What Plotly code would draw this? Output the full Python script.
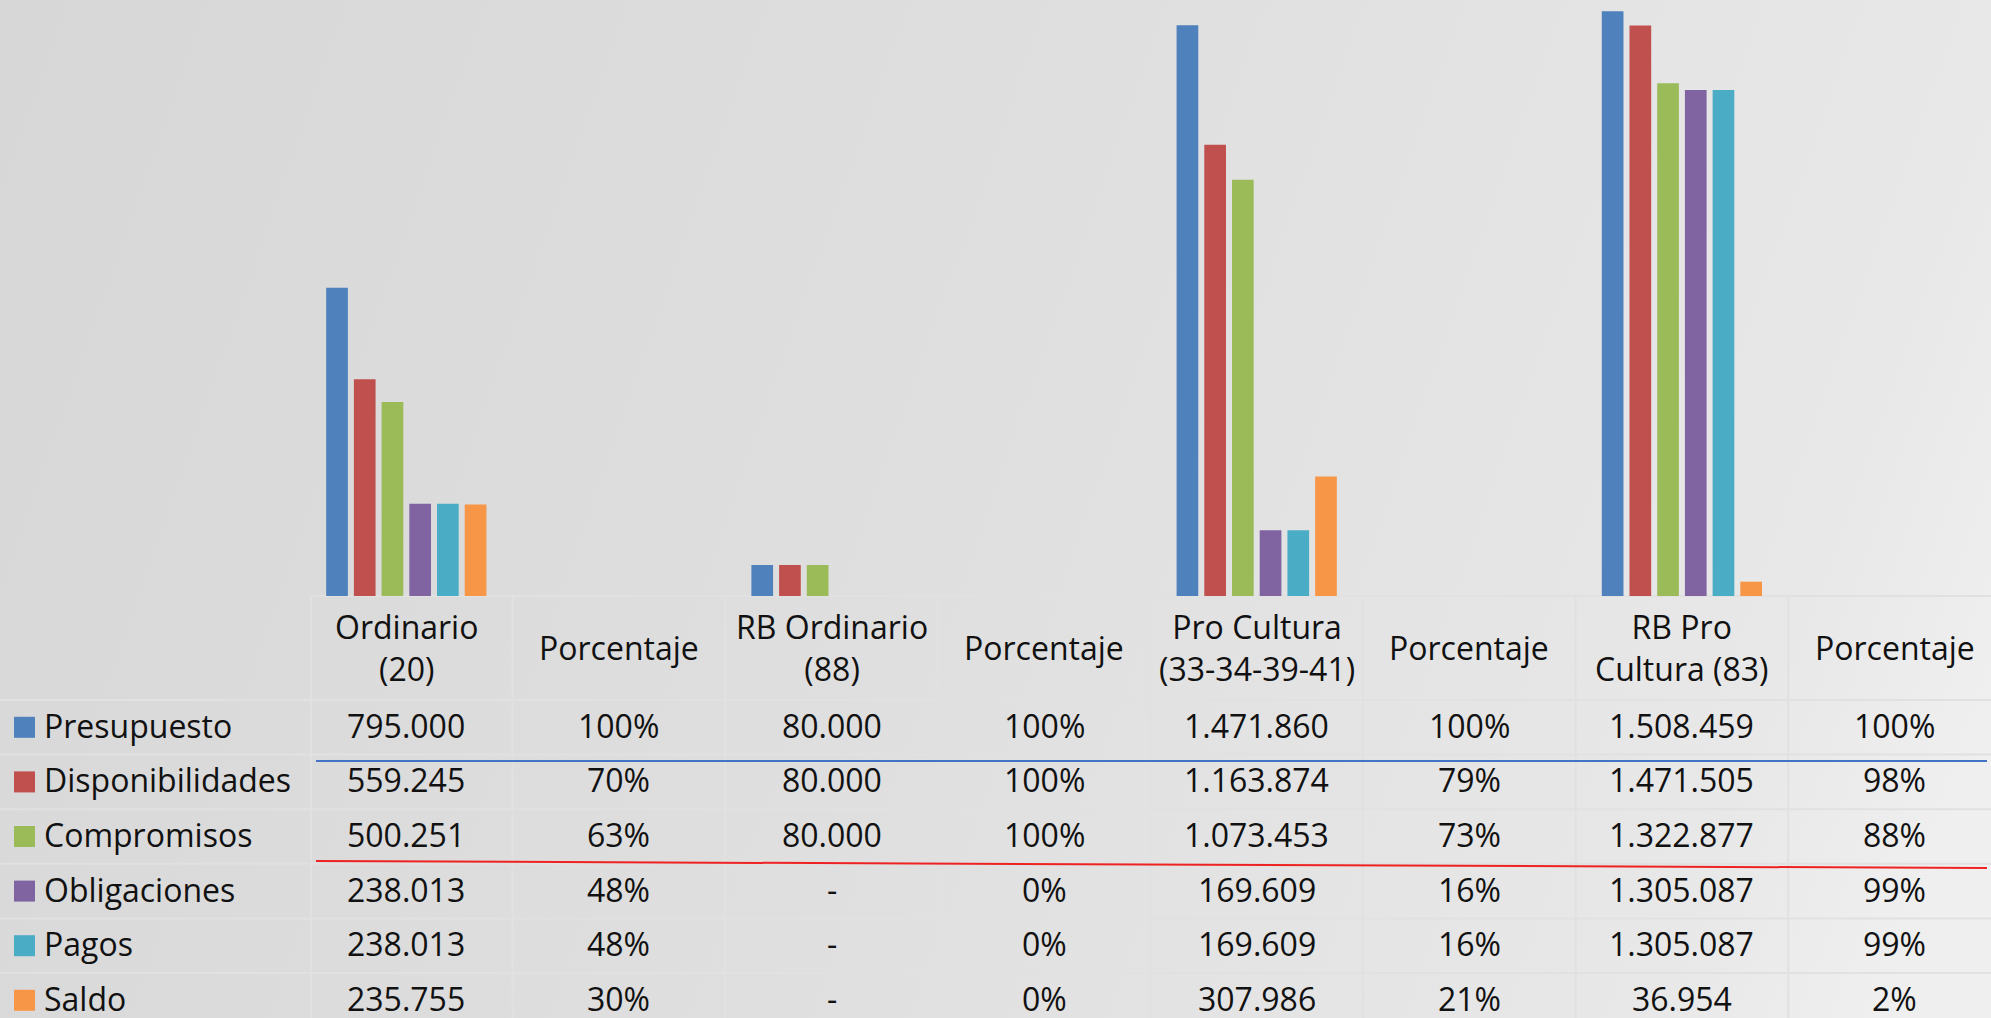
import base64
import plotly.graph_objects as go

# ---------------- data ----------------
categories = ["Ordinario<br>(20)", "Porcentaje", "RB Ordinario<br>(88)", "Porcentaje",
              "Pro Cultura<br>(33-34-39-41)", "Porcentaje", "RB Pro<br>Cultura (83)", "Porcentaje"]
is_pct = [False, True, False, True, False, True, False, True]

series_names = ["Presupuesto", "Disponibilidades", "Compromisos", "Obligaciones", "Pagos", "Saldo"]
presupuesto = [795000, 1.00, 80000, 1.00, 1471860, 1.00, 1508459, 1.00]
disponibilidades = [559245, 0.70, 80000, 1.00, 1163874, 0.79, 1471505, 0.98]
compromisos = [500251, 0.63, 80000, 1.00, 1073453, 0.73, 1322877, 0.88]
obligaciones = [238013, 0.48, 0, 0.00, 169609, 0.16, 1305087, 0.99]
pagos = [238013, 0.48, 0, 0.00, 169609, 0.16, 1305087, 0.99]
saldo = [235755, 0.30, 0, 0.00, 307986, 0.21, 36954, 0.02]
series_values = [presupuesto, disponibilidades, compromisos, obligaciones, pagos, saldo]
series_colors = ["#4F81BD", "#C0504D", "#9BBB59", "#8064A2", "#4BACC6", "#F79646"]

# ---------------- geometry (pixels) ----------------
W, H = 1991, 1018
PLOT_LEFT = 300
TABLE_LEFT = 311
COL_W = 212.6
BASE_Y = 596
HEADER_BOTTOM = 700
ROW_H = 54.6
FONT = "Open Sans"
FS = 32
TXT = "#111111"
GRID = "#e1e1e1"

def px_x(p):
    return p / W

def px_y(p):
    return 1 - p / H

def fmt(v, pct):
    if pct:
        return f"{round(v * 100):.0f}%"
    if v == 0:
        return "-"
    return f"{v:,.0f}".replace(",", ".")

fig = go.Figure()
xs = list(range(len(categories)))
for name, vals, col in zip(series_names, series_values, series_colors):
    fig.add_trace(go.Bar(x=xs, y=vals, name=name, marker_color=col,
                         marker_line_width=0, showlegend=False))

x_max = -0.5 + (W - PLOT_LEFT) / COL_W

# background gradient as svg image
svg = f"""<svg xmlns='http://www.w3.org/2000/svg' width='{W}' height='{H}'>
<defs><linearGradient id='g' gradientUnits='userSpaceOnUse' x1='0' y1='0' x2='{W}' y2='700'>
<stop offset='0' stop-color='#d7d7d7'/>
<stop offset='0.5' stop-color='#dfdfdf'/>
<stop offset='0.9' stop-color='#e8e8e8'/>
<stop offset='1' stop-color='#efefef'/>
</linearGradient></defs>
<rect x='0' y='0' width='{W}' height='{H}' fill='url(#g)'/></svg>"""
svg_uri = "data:image/svg+xml;base64," + base64.b64encode(svg.encode()).decode()

shapes = []
# vertical grid lines of the table
for k in range(len(categories) + 1):
    xp = TABLE_LEFT if k == 0 else PLOT_LEFT + k * COL_W
    shapes.append(dict(type="line", xref="paper", yref="paper",
                       x0=px_x(xp), x1=px_x(xp), y0=px_y(BASE_Y), y1=px_y(H),
                       line=dict(color=GRID, width=2), layer="below"))
# top of table
shapes.append(dict(type="line", xref="paper", yref="paper",
                   x0=px_x(TABLE_LEFT), x1=1, y0=px_y(BASE_Y), y1=px_y(BASE_Y),
                   line=dict(color=GRID, width=2), layer="below"))
# horizontal row lines
for r in range(len(series_names) + 1):
    yp = HEADER_BOTTOM + r * ROW_H
    shapes.append(dict(type="line", xref="paper", yref="paper",
                       x0=0, x1=1, y0=px_y(yp), y1=px_y(yp),
                       line=dict(color=GRID, width=2), layer="below"))
# highlight lines drawn on the slide
shapes.append(dict(type="line", xref="paper", yref="paper",
                   x0=px_x(316), x1=px_x(1987), y0=px_y(761), y1=px_y(761),
                   line=dict(color="#4472C4", width=2)))
shapes.append(dict(type="line", xref="paper", yref="paper",
                   x0=px_x(316), x1=px_x(1987), y0=px_y(861), y1=px_y(868),
                   line=dict(color="#EE2222", width=2)))

annotations = []
# header
for i, cat in enumerate(categories):
    annotations.append(dict(x=i, xref="x", y=px_y((BASE_Y + HEADER_BOTTOM) / 2 - 1), yref="paper",
                            text=cat, showarrow=False, xanchor="center", yanchor="middle",
                            font=dict(family=FONT, size=FS, color=TXT)))
# rows
for r, (name, vals, col) in enumerate(zip(series_names, series_values, series_colors)):
    yc = HEADER_BOTTOM + (r + 0.5) * ROW_H
    ty = yc - 2
    shapes.append(dict(type="rect", xref="paper", yref="paper",
                       x0=px_x(14), x1=px_x(35), y0=px_y(yc - 10.5), y1=px_y(yc + 10.5),
                       fillcolor=col, line=dict(width=0)))
    annotations.append(dict(x=px_x(42), xref="paper", y=px_y(ty), yref="paper",
                            text=name, showarrow=False, xanchor="left", yanchor="middle",
                            font=dict(family=FONT, size=FS, color=TXT)))
    for i, v in enumerate(vals):
        annotations.append(dict(x=i, xref="x", y=px_y(ty), yref="paper",
                                text=fmt(v, is_pct[i]), showarrow=False,
                                xanchor="center", yanchor="middle",
                                font=dict(family=FONT, size=FS, color=TXT)))

fig.update_layout(
    width=W, height=H,
    margin=dict(l=0, r=0, t=0, b=0),
    paper_bgcolor="#e0e0e0",
    plot_bgcolor="rgba(0,0,0,0)",
    barmode="group",
    bargap=0.218,
    bargroupgap=0.217,
    xaxis=dict(domain=[px_x(PLOT_LEFT), 1], range=[-0.5, x_max], showticklabels=False,
               showgrid=False, zeroline=False, showline=False, fixedrange=True),
    yaxis=dict(domain=[px_y(BASE_Y), 1], range=[0, 1537300], showticklabels=False,
               showgrid=False, zeroline=False, showline=False, fixedrange=True),
    images=[dict(source=svg_uri, xref="paper", yref="paper", x=0, y=1, sizex=1, sizey=1,
                 sizing="stretch", layer="below", xanchor="left", yanchor="top")],
    shapes=shapes,
    annotations=annotations,
    showlegend=False,
)

fig.write_html("out.html", config={"displayModeBar": False},
               post_script="document.body.style.margin='0';document.body.style.padding='0';"
                           "document.body.style.overflow='hidden';")
